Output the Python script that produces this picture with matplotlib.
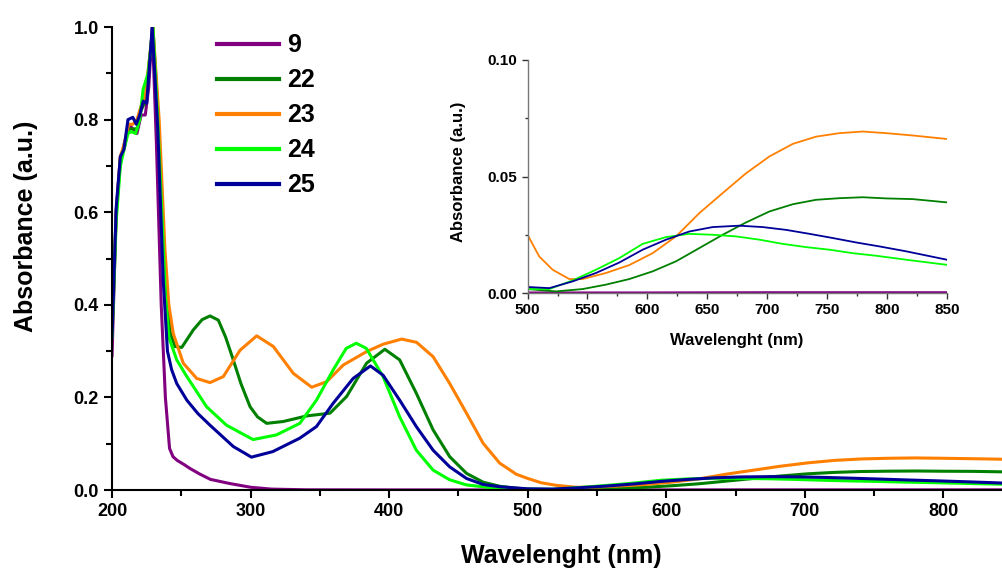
import matplotlib
matplotlib.use("Agg")
import matplotlib.pyplot as plt
from matplotlib.ticker import MultipleLocator, FormatStrFormatter

plt.rcParams['font.family'] = ['Liberation Sans', 'DejaVu Sans']
plt.rcParams['font.weight'] = 'bold'

# wavelength (nm) / absorbance pairs
wl_9 = [200, 203, 206, 209, 212, 215, 218, 221, 224, 226.5, 229, 232, 235.5,
        238.5, 241.5, 244, 247, 252, 256, 263, 271, 285, 300, 315, 340, 400,
        500, 600, 700, 850]
abs_9 = [0.29, 0.60, 0.72, 0.74, 0.79, 0.78, 0.77, 0.81, 0.81, 0.87, 1.0, 0.75,
         0.40, 0.20, 0.09, 0.072, 0.064, 0.055, 0.047, 0.035, 0.023, 0.014,
         0.006, 0.002, 0.0005, 0.0003, 0.0003, 0.0003, 0.0004, 0.0004]

wl_22 = [200, 203, 206, 209, 212, 215, 218, 221, 224, 229.5, 233, 238, 242,
         245.5, 250.3, 258.7, 265, 270.7, 276.7, 282, 287.5, 293, 299.6, 305,
         311.6, 323.6, 340.4, 357.3, 369.3, 383.7, 396.9, 407.6, 419.6, 431.7,
         443.7, 455.8, 467.8, 480, 491.8, 500, 523.7, 545.9, 565.4, 584.9,
         604.4, 623.9, 643.4, 662.9, 682.4, 701.9, 721.4, 740.8, 760.3, 779.8,
         799.3, 821.6, 850]
abs_22 = [0.34, 0.60, 0.71, 0.75, 0.78, 0.78, 0.78, 0.82, 0.84, 1.0, 0.82, 0.48,
          0.34, 0.31, 0.308, 0.346, 0.368, 0.376, 0.367, 0.33, 0.281, 0.23,
          0.18, 0.158, 0.144, 0.148, 0.16, 0.166, 0.202, 0.274, 0.304, 0.281,
          0.209, 0.130, 0.072, 0.036, 0.017, 0.008, 0.004, 0.0017, 0.0007,
          0.0017, 0.0036, 0.006, 0.0093, 0.0136, 0.0193, 0.025, 0.0303, 0.035,
          0.0381, 0.040, 0.0407, 0.0411, 0.0406, 0.0403, 0.0389]

wl_23 = [200, 203, 206, 209, 212, 215, 218, 221, 224, 229.5, 234, 238.2, 241,
         244.2, 251.4, 261.1, 270.7, 280.3, 292.4, 304.4, 316.4, 330.8, 344.1,
         354.9, 366.9, 383.7, 395.7, 409, 419.8, 431.7, 443.7, 455.8, 467.8,
         479.8, 491.8, 500, 509.7, 520.9, 534.8, 545.9, 565.4, 584.9, 604.4,
         623.9, 643.4, 662.9, 682.4, 701.9, 721.4, 740.8, 760.3, 779.8, 799.3,
         821.6, 850]
abs_23 = [0.33, 0.60, 0.72, 0.75, 0.79, 0.79, 0.80, 0.83, 0.85, 1.0, 0.80, 0.518,
          0.40, 0.338, 0.274, 0.241, 0.232, 0.245, 0.302, 0.333, 0.31, 0.252,
          0.222, 0.234, 0.27, 0.299, 0.315, 0.326, 0.319, 0.288, 0.230, 0.166,
          0.101, 0.058, 0.034, 0.025, 0.0157, 0.010, 0.006, 0.006, 0.0086,
          0.012, 0.0171, 0.0243, 0.0343, 0.0429, 0.0514, 0.0586, 0.064, 0.0671,
          0.0686, 0.0693, 0.0686, 0.0676, 0.0661]

wl_24 = [200, 203, 206, 209, 211.5, 214, 217, 220, 222.4, 226, 229.5, 233,
         238.5, 241, 246.7, 254, 268.2, 282.6, 301.8, 318.6, 335.5, 347.5,
         359.5, 369, 376.3, 383.5, 395.6, 407.6, 419.6, 431.7, 443.7, 455.8,
         479.8, 500, 518.1, 537.6, 557.1, 576.6, 596.1, 615.6, 635, 654.5, 674,
         693.5, 713, 732.5, 752, 771.5, 790.9, 816, 850]
abs_24 = [0.33, 0.58, 0.70, 0.74, 0.77, 0.774, 0.77, 0.80, 0.865, 0.90, 1.0,
          0.80, 0.42, 0.33, 0.281, 0.245, 0.180, 0.140, 0.109, 0.119, 0.144,
          0.194, 0.259, 0.306, 0.317, 0.306, 0.245, 0.158, 0.086, 0.043, 0.022,
          0.011, 0.003, 0.0017, 0.0017, 0.0054, 0.010, 0.015, 0.0211, 0.024,
          0.0254, 0.025, 0.0243, 0.0229, 0.0211, 0.0197, 0.0186, 0.0171, 0.016,
          0.0143, 0.0121]

wl_25 = [200, 203, 206, 208.5, 211.5, 215, 217.5, 220, 222.5, 225, 229, 233,
         237, 240, 243, 246.7, 254, 262, 270.7, 287.5, 300.6, 316, 335.5,
         347.5, 359.5, 374, 386.5, 395.6, 407.6, 419.6, 431.7, 443.7, 455.8,
         467.8, 480, 500, 518.1, 537.6, 557.1, 576.6, 596.1, 615.6, 635, 654.5,
         676.8, 696.3, 715.8, 735.3, 754.8, 774.3, 793.8, 816, 850]
abs_25 = [0.33, 0.61, 0.72, 0.735, 0.80, 0.805, 0.79, 0.81, 0.84, 0.835, 1.0,
          0.78, 0.45, 0.30, 0.26, 0.23, 0.194, 0.165, 0.14, 0.094, 0.071, 0.083,
          0.112, 0.137, 0.187, 0.241, 0.268, 0.248, 0.194, 0.137, 0.086, 0.050,
          0.025, 0.012, 0.007, 0.0026, 0.0021, 0.005, 0.0086, 0.0131, 0.0186,
          0.0229, 0.0264, 0.0283, 0.0289, 0.0283, 0.0271, 0.0254, 0.0236,
          0.0217, 0.020, 0.0179, 0.0143]

labels = ['9', '22', '23', '24', '25']
colors = ['#800080', '#008000', '#ff8000', '#00ff00', '#000099']
series = [(wl_9, abs_9), (wl_22, abs_22), (wl_23, abs_23),
          (wl_24, abs_24), (wl_25, abs_25)]

W, H = 1003, 569
fig = plt.figure(figsize=(W / 100, H / 100), dpi=100)
ax = fig.add_axes([0.1117, 0.1388, 0.8883, 0.8137])

for (x, y), c, lab in zip(series, colors, labels):
    ax.plot(x, y, color=c, lw=2.2, label=lab)

ax.set_xlim(200, 843)
ax.set_ylim(0, 1.0)
ax.xaxis.set_major_locator(MultipleLocator(100))
ax.xaxis.set_minor_locator(MultipleLocator(50))
ax.yaxis.set_major_locator(MultipleLocator(0.2))
ax.yaxis.set_minor_locator(MultipleLocator(0.1))
ax.yaxis.set_major_formatter(FormatStrFormatter('%.1f'))
ax.spines['top'].set_visible(False)
ax.spines['right'].set_visible(False)
for s in ['left', 'bottom']:
    ax.spines[s].set_linewidth(1.5)
ax.tick_params(which='major', direction='out', length=6, width=1.5,
               labelsize=13)
ax.tick_params(which='minor', direction='out', length=4, width=1.5)
for t in ax.get_xticklabels() + ax.get_yticklabels():
    t.set_fontweight('bold')
fig.text(561 / W, 1 - 556 / H, 'Wavelenght (nm)', fontsize=18,
         fontweight='bold', ha='center', va='center')
fig.text(26 / W, 1 - 226 / H, 'Absorbance (a.u.)', fontsize=18,
         fontweight='bold', ha='center', va='center', rotation=90)

leg = ax.legend(loc='upper left', bbox_to_anchor=(0.092, 1.035), frameon=False,
                prop={'size': 18, 'weight': 'bold'}, handlelength=2.48,
                handletextpad=0.36, labelspacing=0.44)
for h in leg.get_lines():
    h.set_linewidth(3)

# inset with the visible/NIR region
ins = fig.add_axes([0.526, 0.485, 0.418, 0.4096])
for (x, y), c in zip(series, colors):
    ins.plot(x, y, color=c, lw=1.3)
ins.set_xlim(500, 850)
ins.set_ylim(0, 0.10)
ins.xaxis.set_major_locator(MultipleLocator(50))
ins.xaxis.set_minor_locator(MultipleLocator(25))
ins.yaxis.set_major_locator(MultipleLocator(0.05))
ins.yaxis.set_minor_locator(MultipleLocator(0.025))
ins.yaxis.set_major_formatter(FormatStrFormatter('%.2f'))
ins.spines['top'].set_visible(False)
ins.spines['right'].set_visible(False)
for s in ['left', 'bottom']:
    ins.spines[s].set_color('#777777')
    ins.spines[s].set_linewidth(1.0)
ins.tick_params(which='major', direction='out', length=4, width=1.0,
                labelsize=11, color='#333333')
ins.tick_params(which='minor', direction='out', length=2.5, width=1.0,
                color='#333333')
for t in ins.get_xticklabels() + ins.get_yticklabels():
    t.set_fontweight('bold')
fig.text(737 / W, 1 - 340 / H, 'Wavelenght (nm)', fontsize=12,
         fontweight='bold', ha='center', va='center')
fig.text(459 / W, 1 - 172 / H, 'Absorbance (a.u.)', fontsize=12,
         fontweight='bold', ha='center', va='center', rotation=90)

fig.savefig('out.png', dpi=100)
